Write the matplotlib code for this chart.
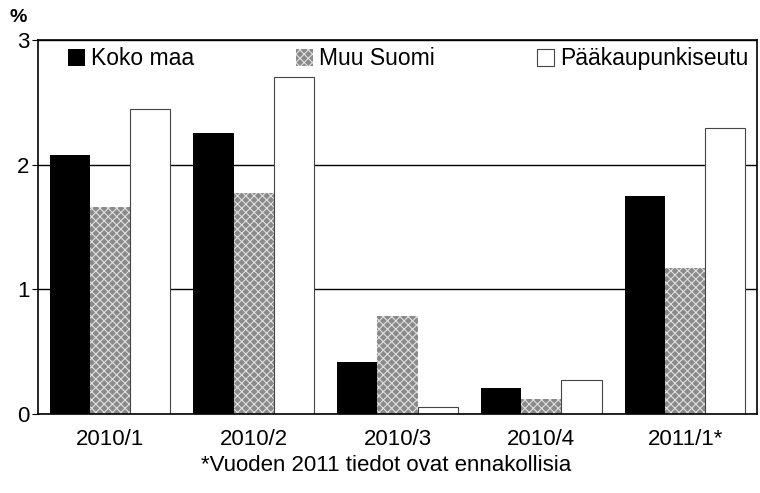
import numpy as np
from matplotlib import pyplot as plt

# Neljännekset ja sarjojen arvot (%)
kaudet = ["2010/1", "2010/2", "2010/3", "2010/4", "2011/1*"]
koko_maa = [2.08, 2.25, 0.42, 0.21, 1.75]
muu_suomi = [1.66, 1.77, 0.79, 0.12, 1.17]
paakaupunkiseutu = [2.45, 2.70, 0.06, 0.27, 2.29]

plt.rcParams['font.family'] = ['Liberation Sans', 'DejaVu Sans']
plt.rcParams['hatch.linewidth'] = 0.8

fig = plt.figure(figsize=(7.6, 4.93), dpi=100)
ax = fig.add_axes([0.05, 0.16, 0.946, 0.759])

x = np.arange(len(kaudet))
w = 0.28

ax.bar(x - w, koko_maa, w, color='black', label='Koko maa', zorder=2)
ax.bar(x, muu_suomi, w, facecolor='#8a8a8a', edgecolor='#e0e0e0', hatch='xxxx',
       linewidth=0, label='Muu Suomi', zorder=2)
ax.bar(x + w, paakaupunkiseutu, w, facecolor='white', edgecolor='#444444',
       linewidth=0.8, label='Pääkaupunkiseutu', zorder=2)

ax.set_xlim(-0.5, len(kaudet) - 0.5)
ax.set_ylim(0, 3)
ax.set_yticks([0, 1, 2, 3])
ax.set_xticks(x)
ax.set_xticklabels(kaudet, fontsize=16)
ax.tick_params(axis='y', labelsize=16, length=4, direction='out', pad=2)
ax.tick_params(axis='x', length=0, pad=11)
ax.yaxis.grid(True, color='black', linewidth=1.0)
ax.set_axisbelow(True)
for s in ax.spines.values():
    s.set_linewidth(1.2)

fig.text(0.012, 0.955, '%', fontsize=14, fontweight='bold')

ax.legend(loc='upper center', bbox_to_anchor=(0.515, 1.035), ncol=3, frameon=False,
          fontsize=16.5, handlelength=0.75, handleheight=0.75, handletextpad=0.25,
          columnspacing=4.45)

fig.text(0.508, 0.045, '*Vuoden 2011 tiedot ovat ennakollisia', fontsize=16,
         ha='center')

plt.savefig('out.png', dpi=100)
